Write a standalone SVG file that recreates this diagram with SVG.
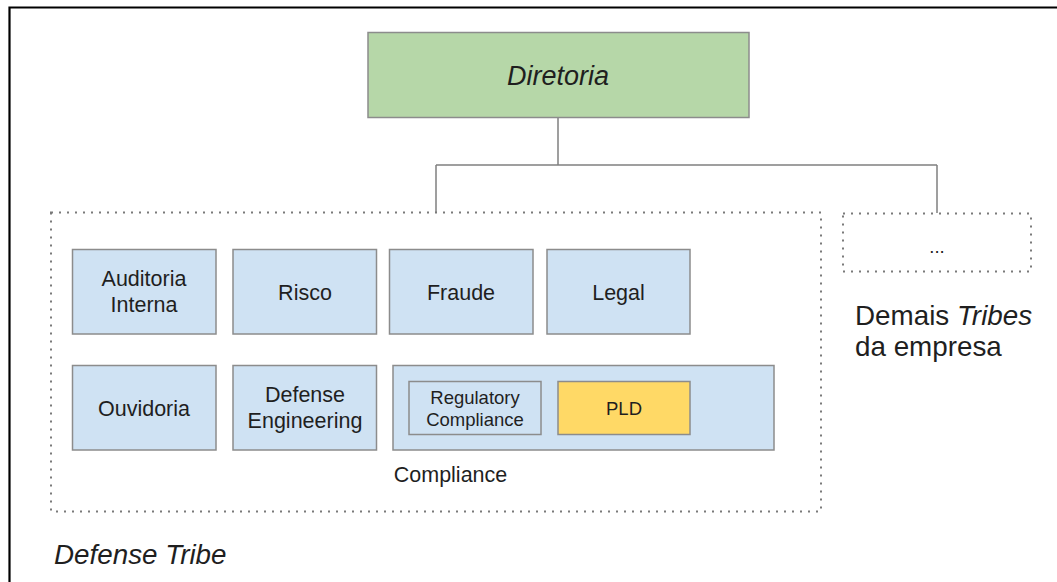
<svg xmlns="http://www.w3.org/2000/svg" width="1057" height="582" viewBox="0 0 1057 582">
  <style>
    text { font-family: "Liberation Sans", Arial, sans-serif; fill: #1f1f1f; text-anchor: middle; }
    .unit { fill: #cfe2f3; stroke: #8c8c8c; stroke-width: 1.5; }
    .group { fill: none; stroke: #7a7a7a; stroke-width: 2; stroke-dasharray: 2 6; }
    .lbl { font-size: 21.5px; }
    .sm { font-size: 18.5px; }
    .big { font-size: 27px; }
    .note { font-size: 27.8px; text-anchor: start; }
    .wire { fill: none; stroke: #7f7f7f; stroke-width: 1.5; }
  </style>

  <rect x="0" y="0" width="1057" height="582" fill="#ffffff"/>
  <!-- page frame -->
  <path d="M9.5 582 V7.5 H1057" fill="none" stroke="#000" stroke-width="2.2"/>

  <g id="connectors">
    <path class="wire" d="M558 118 V165"/>
    <path class="wire" d="M436 165 H937"/>
    <path class="wire" d="M436 165 V212"/>
    <path class="wire" d="M937 165 V213"/>
  </g>

  <g id="diretoria">
    <rect x="368" y="32.5" width="381" height="85" fill="#b6d7a8" stroke="#8c8c8c" stroke-width="1.5"/>
    <text class="big" x="558" y="84.5" font-style="italic">Diretoria</text>
  </g>

  <g id="defense-tribe">
    <rect class="group" x="51" y="212.5" width="770" height="299"/>
    <text class="note" x="54" y="564" font-style="italic">Defense Tribe</text>
  </g>

  <g id="demais-tribes">
    <rect class="group" x="843" y="213.5" width="188" height="58"/>
    <text class="sm" x="937" y="253">...</text>
    <text class="note" x="855" y="325">Demais <tspan font-style="italic">Tribes</tspan></text>
    <text class="note" x="855" y="356">da empresa</text>
  </g>

  <g id="auditoria-interna">
    <rect class="unit" x="72.5" y="249.5" width="143.5" height="84.5"/>
    <text class="lbl" x="144" y="286">Auditoria</text>
    <text class="lbl" x="144" y="311.5">Interna</text>
  </g>

  <g id="risco">
    <rect class="unit" x="233" y="249.5" width="143.5" height="84.5"/>
    <text class="lbl" x="305" y="299.5">Risco</text>
  </g>

  <g id="fraude">
    <rect class="unit" x="389.5" y="249.5" width="143.5" height="84.5"/>
    <text class="lbl" x="461" y="299.5">Fraude</text>
  </g>

  <g id="legal">
    <rect class="unit" x="547" y="249.5" width="143" height="84.5"/>
    <text class="lbl" x="618.5" y="299.5">Legal</text>
  </g>

  <g id="ouvidoria">
    <rect class="unit" x="72.5" y="365.5" width="143.5" height="84.5"/>
    <text class="lbl" x="144" y="415.5">Ouvidoria</text>
  </g>

  <g id="defense-engineering">
    <rect class="unit" x="233" y="365.5" width="143.5" height="84.5"/>
    <text class="lbl" x="305" y="402">Defense</text>
    <text class="lbl" x="305" y="427.5">Engineering</text>
  </g>

  <g id="compliance">
    <rect class="unit" x="393" y="365.5" width="381" height="84.5"/>
    <text class="lbl" x="450.5" y="482">Compliance</text>
  </g>

  <g id="regulatory-compliance">
    <rect class="unit" x="409" y="381.5" width="132" height="53"/>
    <text class="sm" x="475" y="403.5">Regulatory</text>
    <text class="sm" x="475" y="426">Compliance</text>
  </g>

  <g id="pld">
    <rect x="558" y="381.5" width="132" height="53" fill="#ffd966" stroke="#8c8c8c" stroke-width="1.5"/>
    <text class="sm" x="624" y="415">PLD</text>
  </g>
</svg>
